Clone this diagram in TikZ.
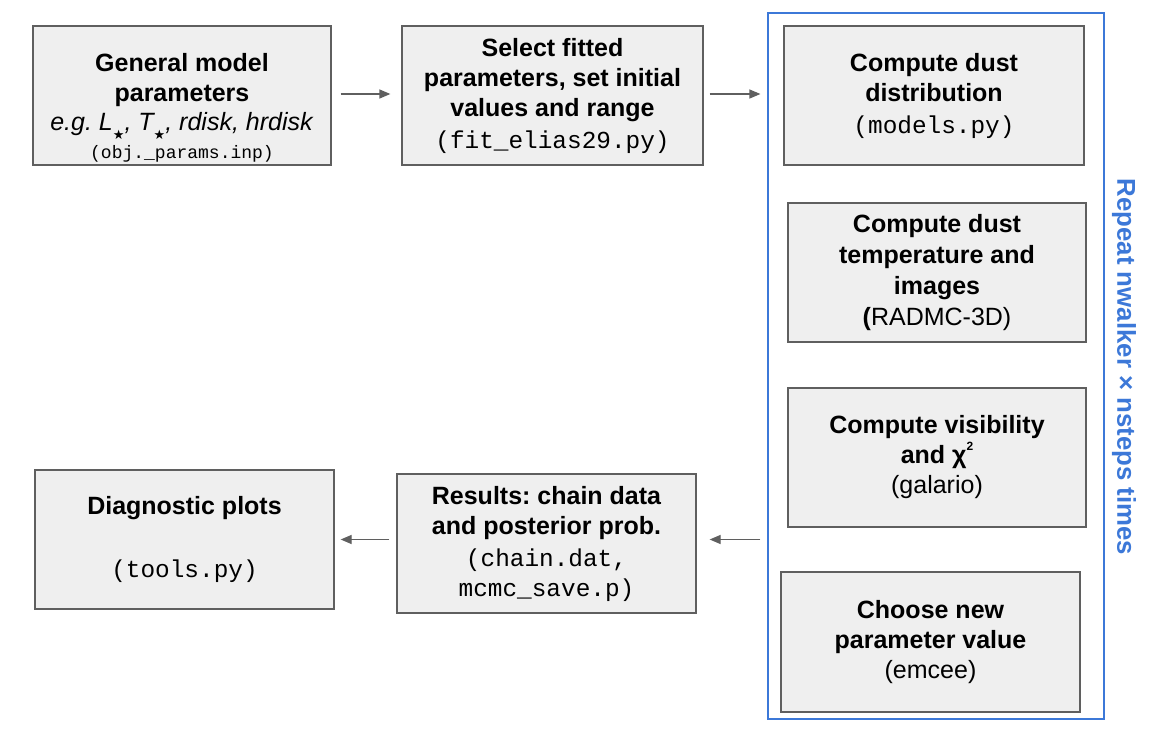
\documentclass[tikz,border=0pt]{standalone}
\usepackage{fontspec}
\setmainfont{Liberation Sans}
\setmonofont{Liberation Mono}
\newfontfamily\djv{DejaVu Sans}
\usetikzlibrary{arrows.meta}
\definecolor{boxfill}{HTML}{EFEFEF}
\definecolor{boxline}{HTML}{5F5F5F}
\definecolor{loopblue}{HTML}{3C78D8}
\newcommand{\starsub}{\raisebox{-0.36em}{\djv\fontsize{13}{13}\selectfont ★}}
\newcommand{\bigmono}{\fontsize{24.4}{30}\selectfont\ttfamily}
\newcommand{\bt}{\bfseries}
\frenchspacing
\begin{document}
\begin{tikzpicture}[x=1pt,y=-1pt,
  flowbox/.style={draw=boxline, fill=boxfill, line width=1.3pt, align=center,
    minimum width=298pt, minimum height=139pt, inner sep=0pt,
    font=\fontsize{25}{30}\selectfont},
  flowarrow/.style={draw=boxline, line width=1.3pt, -{Triangle[length=11pt,width=9pt]}}]
\useasboundingbox (0,0) rectangle (1165,739);
\fill[white] (0,0) rectangle (1165,739);

\node[draw=loopblue, line width=1.2pt, minimum width=336pt, minimum height=706pt, inner sep=0pt] (loop) at (936,366) {};
\node[rotate=-90, text=loopblue, font=\bfseries\fontsize{25.8}{30}\selectfont] (looplabel) at (1124,367) {Repeat nwalker × nsteps times};

\node[flowbox] (general) at (182,95.5) {\rule{0pt}{42pt}{\bt General model}\\{\bt parameters}\\[-1pt]\textit{e.g. L\starsub, T\starsub, rdisk, hrdisk}\\[-2pt]{\fontsize{18}{22}\selectfont\ttfamily (obj.\_params.inp)}};
\node[flowbox, minimum width=301pt] (select) at (552.5,95.5) {{\bt Select fitted}\\{\bt parameters, set initial}\\{\bt values and range}\\[2pt]{\bigmono (fit\_elias29.py)}};
\node[flowbox, minimum width=300pt] (dist) at (934,95.5) {{\bt Compute dust}\\{\bt distribution}\\[2pt]{\bigmono (models.py)}};
\node[flowbox] (temp) at (937,272.5) {{\bt Compute dust}\\[1pt]{\bt temperature and}\\[1pt]{\bt images}\\[1pt]{\bt (}RADMC-3D)};
\node[flowbox] (vis) at (937,457.5) {{\bt Compute visibility}\\{\bt and χ\raisebox{0.55em}{\fontsize{12}{12}\selectfont 2}}\\(galario)};
\node[flowbox, minimum width=299pt, minimum height=140pt] (choose) at (930.5,642) {{\bt Choose new}\\{\bt parameter value}\\(emcee)};
\node[flowbox, minimum width=299pt] (results) at (546.5,543.5) {{\bt Results: chain data}\\{\bt and posterior prob.}\\[2pt]{\bigmono (chain.dat,}\\{\bigmono mcmc\_save.p)}};
\node[flowbox, minimum width=299pt] (diag) at (184.5,539.5) {{\bt Diagnostic plots}\\[33pt]{\bigmono (tools.py)}};

\draw[flowarrow, shorten <=9pt, shorten >=11pt] (general.east |- 0,94) -- (select.west |- 0,94);
\draw[flowarrow, shorten <=6pt, shorten >=7pt] (select.east |- 0,94) -- (loop.west |- 0,94);
\draw[flowarrow, shorten <=7pt, shorten >=13pt] (loop.west |- diag.east) -- (results.east |- diag.east);
\draw[flowarrow, shorten <=7pt, shorten >=6pt] (results.west |- diag.east) -- (diag.east);
\end{tikzpicture}
\end{document}
